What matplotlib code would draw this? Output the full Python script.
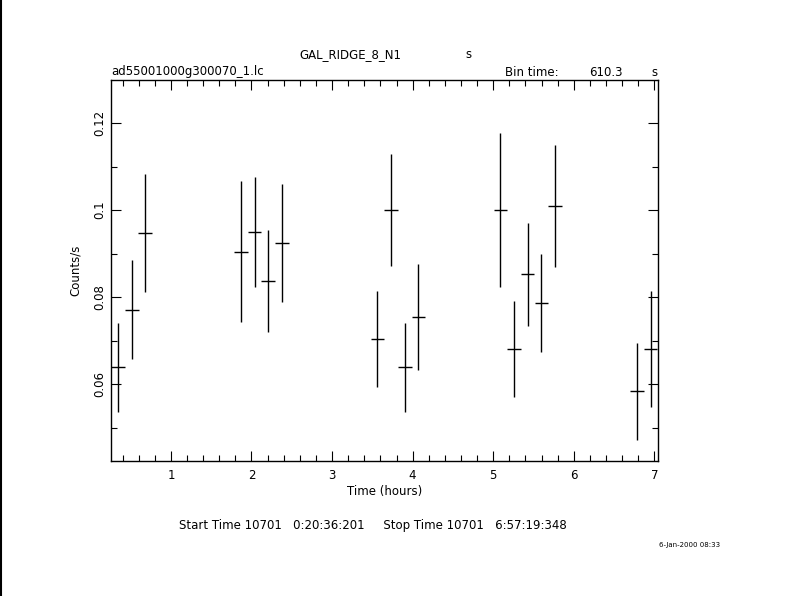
import numpy as np
import matplotlib
matplotlib.use("Agg")
import matplotlib.pyplot as plt
from matplotlib.ticker import MultipleLocator
from matplotlib.lines import Line2D

# light curve bins (hours), rates and errors
time_h = [0.343, 0.513, 0.682, 1.869, 2.038, 2.208, 2.377, 3.564, 3.733, 3.903,
          4.072, 5.089, 5.259, 5.428, 5.598, 5.767, 6.784, 6.954]
rate = [0.0638, 0.0771, 0.0947, 0.0904, 0.0950, 0.0836, 0.0924, 0.0703, 0.1000, 0.0638,
        0.0755, 0.1000, 0.0681, 0.0852, 0.0787, 0.1009, 0.0583, 0.0680]
rate_err = [0.0103, 0.0113, 0.0136, 0.0162, 0.0126, 0.0117, 0.0136, 0.0110, 0.0129, 0.0103,
            0.0122, 0.0178, 0.0111, 0.0118, 0.0113, 0.0141, 0.0112, 0.0133]
bin_time = 610.3  # s
half_bin = bin_time / 3600.0 / 2

fig = plt.figure(figsize=(7.9, 5.96), dpi=100)
ax = fig.add_axes([111/790, 135/596, 547/790, 381/596])

ax.errorbar(time_h, rate, xerr=half_bin, yerr=rate_err, fmt='none',
            ecolor='black', elinewidth=1.0, capsize=0)

ax.set_xlim(0.256, 7.046)
ax.set_ylim(0.0423, 0.1299)

ax.xaxis.set_major_locator(MultipleLocator(1))
ax.xaxis.set_minor_locator(MultipleLocator(0.2))
ax.yaxis.set_major_locator(MultipleLocator(0.02))
ax.yaxis.set_minor_locator(MultipleLocator(0.01))
ax.tick_params(which='both', direction='in', top=True, right=True, width=0.8,
               labelsize=8.5)
ax.tick_params(which='major', length=7)
ax.tick_params(which='minor', length=4)
ax.tick_params(axis='x', pad=6)
ax.set_yticks([0.06, 0.08, 0.1, 0.12])
ax.set_yticklabels(['0.06', '0.08', '0.1', '0.12'], rotation=90, va='center')
for s in ax.spines.values():
    s.set_linewidth(1.0)

ax.set_xlabel('Time (hours)', fontsize=8.5, labelpad=2)
ax.set_ylabel('Counts/s', fontsize=8.5, labelpad=8)

fig.text(350/790, 1 - 55/596, 'GAL_RIDGE_8_N1', fontsize=8.5, ha='center', va='center')
fig.text(468/790, 1 - 55/596, 's', fontsize=8.5, ha='center', va='center')
fig.text(111/790, 1 - 72/596, 'ad55001000g300070_1.lc', fontsize=8.5, ha='left', va='center')
fig.text(505/790, 1 - 72/596, 'Bin time:', fontsize=8.5, ha='left', va='center')
fig.text(623/790, 1 - 72/596, '%.1f' % bin_time, fontsize=8.5, ha='right', va='center')
fig.text(654/790, 1 - 72/596, 's', fontsize=8.5, ha='center', va='center')
fig.text(373/790, 1 - 525/596,
         'Start Time 10701   0:20:36:201     Stop Time 10701   6:57:19:348',
         fontsize=8.5, ha='center', va='center')
fig.text(690/790, 1 - 545/596, '6-Jan-2000 08:33', fontsize=5, ha='center', va='center')

# left border line of the original frame
fig.add_artist(Line2D([0.001, 0.001], [0, 1], color='black', linewidth=1.5,
                      transform=fig.transFigure))

fig.savefig('out.png', dpi=100)
